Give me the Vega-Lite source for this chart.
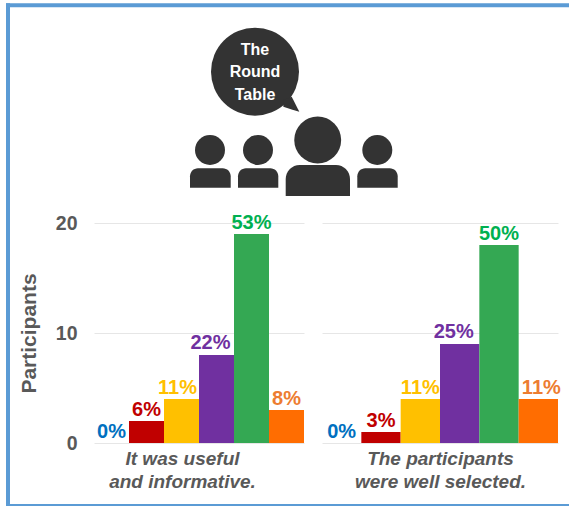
{
  "$schema": "https://vega.github.io/schema/vega-lite/v6.json",
  "padding": 0,
  "background": "white",
  "bounds": "flush",
  "spacing": 0,
  "config": {
    "view": {"stroke": null},
    "font": "Liberation Sans"
  },
  "datasets": {
    "ratings": [
      {"question": "useful", "rating": "Strongly disagree", "participants": 0, "share": "0%"},
      {"question": "useful", "rating": "Disagree", "participants": 2, "share": "6%"},
      {"question": "useful", "rating": "Somewhat disagree", "participants": 4, "share": "11%"},
      {"question": "useful", "rating": "Somewhat agree", "participants": 8, "share": "22%"},
      {"question": "useful", "rating": "Agree", "participants": 19, "share": "53%"},
      {"question": "useful", "rating": "Strongly agree", "participants": 3, "share": "8%"},
      {"question": "selected", "rating": "Strongly disagree", "participants": 0, "share": "0%"},
      {"question": "selected", "rating": "Disagree", "participants": 1, "share": "3%"},
      {"question": "selected", "rating": "Somewhat disagree", "participants": 4, "share": "11%"},
      {"question": "selected", "rating": "Somewhat agree", "participants": 9, "share": "25%"},
      {"question": "selected", "rating": "Agree", "participants": 18, "share": "50%"},
      {"question": "selected", "rating": "Strongly agree", "participants": 4, "share": "11%"}
    ]
  },
  "vconcat": [
    {
      "width": 569,
      "height": 223,
      "encoding": {
        "x": {"field": "x", "type": "quantitative", "scale": {"domain": [0, 569]}, "axis": null},
        "y": {"field": "y", "type": "quantitative", "scale": {"domain": [223, 0]}, "axis": null}
      },
      "layer": [
        {
          "description": "Top edge of the frame",
          "data": {"values": [{"x": 6, "x2": 569, "y": 5.3}]},
          "mark": {"type": "rule", "color": "#5B9BD5", "strokeWidth": 4},
          "encoding": {"x2": {"field": "x2"}}
        },
        {
          "description": "Bottom edge of the frame",
          "data": {"values": [{"x": 6, "x2": 569, "y": 505}]},
          "mark": {"type": "rule", "color": "#5B9BD5", "strokeWidth": 2},
          "encoding": {"x2": {"field": "x2"}}
        },
        {
          "description": "Left edge of the frame",
          "data": {"values": [{"x": 8, "y": 3.3, "y2": 506}]},
          "mark": {"type": "rule", "color": "#5B9BD5", "strokeWidth": 4},
          "encoding": {"y2": {"field": "y2"}}
        },
        {
          "description": "Speech bubble",
          "data": {"values": [{"x": 255, "y": 71.7}]},
          "mark": {"type": "point", "filled": true, "opacity": 1, "size": 7744, "color": "#333333"}
        },
        {
          "description": "Speech bubble tail",
          "data": {"values": [
            {"x": 283.3, "y": 100, "y2": 106.7},
            {"x": 291.7, "y": 96.7, "y2": 109.4},
            {"x": 299.3, "y": 111.7, "y2": 111.7}
          ]},
          "mark": {"type": "area", "color": "#333333"},
          "encoding": {"y2": {"field": "y2"}}
        },
        {
          "description": "Bubble caption",
          "data": {"values": [
            {"x": 255, "y": 50, "word": "The"},
            {"x": 255, "y": 72, "word": "Round"},
            {"x": 255, "y": 95, "word": "Table"}
          ]},
          "mark": {"type": "text", "color": "white", "fontWeight": "bold", "fontSize": 16, "baseline": "middle", "align": "center"},
          "encoding": {"text": {"field": "word"}}
        },
        {
          "description": "Smaller heads",
          "data": {"values": [{"x": 210, "y": 150}, {"x": 258, "y": 150}, {"x": 377.3, "y": 150}]},
          "mark": {"type": "point", "filled": true, "opacity": 1, "size": 900, "color": "#333333"}
        },
        {
          "description": "Central head",
          "data": {"values": [{"x": 317.7, "y": 140}]},
          "mark": {"type": "point", "filled": true, "opacity": 1, "size": 2200, "color": "#333333"}
        },
        {
          "description": "Smaller bodies",
          "data": {"values": [
            {"x": 190, "x2": 230.7, "y": 168.3, "y2": 187.7},
            {"x": 238, "x2": 278.3, "y": 168.3, "y2": 187.7},
            {"x": 357.3, "x2": 397.7, "y": 168.3, "y2": 187.7}
          ]},
          "mark": {"type": "rect", "color": "#333333", "cornerRadiusTopLeft": 8, "cornerRadiusTopRight": 8},
          "encoding": {"x2": {"field": "x2"}, "y2": {"field": "y2"}}
        },
        {
          "description": "Central body",
          "data": {"values": [{"x": 285.7, "x2": 350, "y": 165, "y2": 196}]},
          "mark": {"type": "rect", "color": "#333333", "cornerRadiusTopLeft": 14, "cornerRadiusTopRight": 14},
          "encoding": {"x2": {"field": "x2"}, "y2": {"field": "y2"}}
        }
      ]
    },
    {
      "bounds": "flush",
      "spacing": 18,
      "hconcat": [
        {
          "description": "Keeps the room taken by the value axis of the first panel",
          "width": 76,
          "height": 220,
          "data": {"values": []},
          "mark": {"type": "rule", "opacity": 0},
          "encoding": {}
        },
        {
          "width": 210,
          "height": 220,
          "data": {"name": "ratings"},
          "transform": [{"filter": "datum.question === 'useful'"}],
          "encoding": {
            "x": {
              "field": "rating",
              "type": "nominal",
              "sort": null,
              "scale": {"paddingInner": 0, "paddingOuter": 0},
              "axis": {
                "labels": false,
                "ticks": false,
                "domain": false,
                "title": ["It was useful", "and informative."],
                "titleFontSize": 19,
                "titleFontWeight": "bold",
                "titleFontStyle": "italic",
                "titleColor": "#595959",
                "titleLineHeight": 23.5,
                "titleX": 88,
                "titleY": 6,
                "titleBaseline": "top"
              }
            },
            "y": {
              "field": "participants",
              "type": "quantitative",
              "scale": {"domain": [0, 20]},
              "axis": {
                "values": [0, 10, 20],
                "domain": false,
                "ticks": false,
                "grid": true,
                "gridColor": "#E6E6E6",
                "labelFontSize": 19.5,
                "labelFontWeight": "bold",
                "labelColor": "#595959",
                "labelPadding": 17,
                "title": "Participants",
                "titleFontSize": 21,
                "titleFontWeight": "bold",
                "titleColor": "#595959",
                "titleX": -55,
                "titleY": 110
              }
            }
          },
          "layer": [
            {
              "mark": {"type": "bar"},
              "encoding": {
                "color": {
                  "field": "rating",
                  "type": "nominal",
                  "sort": null,
                  "legend": null,
                  "scale": {
                    "domain": ["Strongly disagree", "Disagree", "Somewhat disagree", "Somewhat agree", "Agree", "Strongly agree"],
                    "range": ["#0070C0", "#C00000", "#FFC000", "#7030A0", "#34A853", "#FF6D01"]
                  }
                }
              }
            },
            {
              "transform": [{"filter": "datum.rating !== 'Somewhat agree' && datum.rating !== 'Somewhat disagree'"}],
              "mark": {"type": "text", "fontSize": 20, "fontWeight": "bold", "baseline": "bottom", "dy": -1},
              "encoding": {
                "text": {"field": "share"},
                "color": {
                  "field": "rating",
                  "type": "nominal",
                  "sort": null,
                  "legend": null,
                  "scale": {
                    "domain": ["Strongly disagree", "Disagree", "Somewhat disagree", "Somewhat agree", "Agree", "Strongly agree"],
                    "range": ["#0070C0", "#C00000", "#FFC000", "#7030A0", "#00B050", "#ED7D31"]
                  }
                }
              }
            },
            {
              "transform": [{"filter": "datum.rating === 'Somewhat disagree'"}],
              "mark": {"type": "text", "fontSize": 20, "fontWeight": "bold", "baseline": "bottom", "dy": -1, "dx": -4, "color": "#FFC000"},
              "encoding": {"text": {"field": "share"}}
            },
            {
              "transform": [{"filter": "datum.rating === 'Somewhat agree'"}],
              "mark": {"type": "text", "fontSize": 20, "fontWeight": "bold", "baseline": "bottom", "dy": -2, "dx": -6, "color": "#7030A0"},
              "encoding": {"text": {"field": "share"}}
            }
          ],
          "resolve": {"scale": {"color": "independent"}}
        },
        {
          "width": 236,
          "height": 220,
          "data": {"name": "ratings"},
          "transform": [{"filter": "datum.question === 'selected'"}],
          "encoding": {
            "x": {
              "field": "rating",
              "type": "nominal",
              "sort": null,
              "scale": {"paddingInner": 0, "paddingOuter": 0},
              "axis": {
                "labels": false,
                "ticks": false,
                "domain": false,
                "title": ["The participants", "were well selected."],
                "titleFontSize": 19,
                "titleFontWeight": "bold",
                "titleFontStyle": "italic",
                "titleColor": "#595959",
                "titleLineHeight": 23.5,
                "titleY": 6,
                "titleBaseline": "top"
              }
            },
            "y": {
              "field": "participants",
              "type": "quantitative",
              "scale": {"domain": [0, 20]},
              "axis": {
                "values": [0, 10, 20],
                "domain": false,
                "ticks": false,
                "labels": false,
                "grid": true,
                "gridColor": "#E6E6E6",
                "title": null
              }
            }
          },
          "layer": [
            {
              "mark": {"type": "bar"},
              "encoding": {
                "color": {
                  "field": "rating",
                  "type": "nominal",
                  "sort": null,
                  "legend": null,
                  "scale": {
                    "domain": ["Strongly disagree", "Disagree", "Somewhat disagree", "Somewhat agree", "Agree", "Strongly agree"],
                    "range": ["#0070C0", "#C00000", "#FFC000", "#7030A0", "#34A853", "#FF6D01"]
                  }
                }
              }
            },
            {
              "transform": [{"filter": "datum.rating !== 'Somewhat agree' && datum.rating !== 'Strongly agree'"}],
              "mark": {"type": "text", "fontSize": 20, "fontWeight": "bold", "baseline": "bottom", "dy": -1},
              "encoding": {
                "text": {"field": "share"},
                "color": {
                  "field": "rating",
                  "type": "nominal",
                  "sort": null,
                  "legend": null,
                  "scale": {
                    "domain": ["Strongly disagree", "Disagree", "Somewhat disagree", "Somewhat agree", "Agree", "Strongly agree"],
                    "range": ["#0070C0", "#C00000", "#FFC000", "#7030A0", "#00B050", "#ED7D31"]
                  }
                }
              }
            },
            {
              "transform": [{"filter": "datum.rating === 'Somewhat agree'"}],
              "mark": {"type": "text", "fontSize": 20, "fontWeight": "bold", "baseline": "bottom", "dy": -2, "dx": -6, "color": "#7030A0"},
              "encoding": {"text": {"field": "share"}}
            },
            {
              "transform": [{"filter": "datum.rating === 'Strongly agree'"}],
              "mark": {"type": "text", "fontSize": 20, "fontWeight": "bold", "baseline": "bottom", "dy": -1, "dx": 3, "color": "#ED7D31"},
              "encoding": {"text": {"field": "share"}}
            }
          ],
          "resolve": {"scale": {"color": "independent"}}
        }
      ]
    }
  ]
}
